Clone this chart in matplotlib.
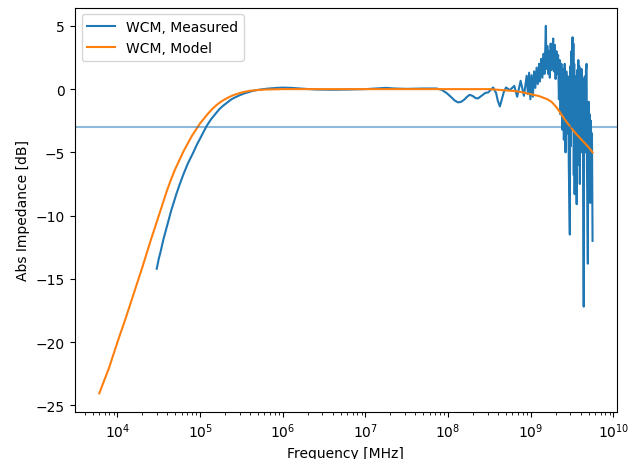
import matplotlib
matplotlib.use("Agg")
import matplotlib.pyplot as plt
import numpy as np

# values: (log10 frequency, dB)
model_pts = [
    (3.78, -24.05), (3.9, -22.0), (4.0, -20.0), (4.1, -18.1), (4.2, -16.1),
    (4.3, -14.1), (4.4, -12.0), (4.5, -10.0), (4.55, -9.0), (4.6, -8.0),
    (4.65, -7.1), (4.7, -6.3), (4.75, -5.6), (4.8, -4.9), (4.85, -4.3),
    (4.9, -3.7), (4.95, -3.2), (5.0, -2.7), (5.05, -2.3), (5.1, -1.9),
    (5.15, -1.55), (5.2, -1.25), (5.25, -1.0), (5.3, -0.8), (5.35, -0.63),
    (5.4, -0.48), (5.45, -0.37), (5.5, -0.27), (5.6, -0.13), (5.7, -0.07),
    (5.8, -0.03), (6.0, 0.0), (6.5, 0.0), (7.0, 0.0), (7.5, 0.0), (8.0, 0.0),
    (8.5, 0.0), (8.6, -0.05), (8.7, -0.1), (8.8, -0.15), (8.9, -0.25),
    (9.0, -0.4), (9.1, -0.55), (9.2, -0.8), (9.25, -1.0), (9.3, -1.35),
    (9.35, -1.8), (9.4, -2.3), (9.45, -2.75), (9.5, -3.15), (9.55, -3.55),
    (9.6, -3.9), (9.65, -4.25), (9.7, -4.6), (9.747, -5.0),
]

meas_pts = [
    (4.475, -14.2), (4.5, -13.4), (4.52, -12.9), (4.555, -11.9), (4.6, -10.8),
    (4.65, -9.6), (4.717, -8.2), (4.76, -7.4), (4.8, -6.7), (4.85, -5.9),
    (4.918, -5.0), (4.96, -4.4), (5.0, -3.9), (5.04, -3.4), (5.08, -2.9),
    (5.13, -2.4), (5.18, -2.0), (5.23, -1.6), (5.28, -1.3), (5.33, -1.05),
    (5.38, -0.8), (5.43, -0.63), (5.48, -0.48), (5.53, -0.35), (5.58, -0.25),
    (5.63, -0.15), (5.68, -0.08), (5.8, 0.03), (5.93, 0.1), (6.0, 0.12),
    (6.1, 0.1), (6.25, 0.03), (6.4, -0.03), (6.6, -0.05), (6.8, -0.03),
    (7.0, 0.0), (7.15, 0.06), (7.25, 0.1), (7.35, 0.05), (7.5, 0.02),
    (7.7, 0.05), (7.86, 0.05), (7.92, -0.05), (7.98, -0.3), (8.04, -0.65),
    (8.08, -0.9), (8.12, -1.05), (8.16, -1.0), (8.2, -0.8), (8.23, -0.6),
    (8.26, -0.45), (8.3, -0.55), (8.33, -0.7), (8.36, -0.74), (8.39, -0.6),
    (8.42, -0.45), (8.45, -0.3), (8.485, -0.26), (8.515, -0.05), (8.545, 0.13),
    (8.58, -0.3), (8.6, -0.9), (8.626, -1.37), (8.65, -0.8), (8.675, -0.2),
    (8.70, 0.13), (8.747, -0.08), (8.80, 0.26), (8.835, -0.6), (8.877, 0.66),
    (8.917, -0.53), (8.95, 1.06),
    (8.965, -0.4), (8.98, 1.3), (8.995, -0.8), (9.01, 1.1), (9.025, -0.6),
    (9.04, 1.4), (9.055, 0.1), (9.07, 1.7), (9.085, 0.4), (9.10, 2.0),
    (9.11, 0.6), (9.125, 2.4), (9.14, 0.9), (9.155, 2.8), (9.165, 1.2),
    (9.175, 3.2), (9.182, 5.0), (9.19, 1.6), (9.20, 3.4), (9.21, 1.2),
    (9.22, 3.0), (9.23, 0.9), (9.24, 3.6), (9.25, 1.5), (9.26, 2.8),
    (9.271, 4.0), (9.28, 1.4), (9.29, 3.5), (9.30, 0.8), (9.31, 3.0),
    (9.32, 1.2), (9.33, 2.7), (9.34, -0.8), (9.35, 2.3), (9.36, -2.0),
    (9.37, 2.0), (9.38, -3.2), (9.39, 1.6), (9.40, -4.0), (9.41, 2.0),
    (9.42, -5.0), (9.43, 1.4), (9.44, -3.5), (9.45, 1.0), (9.46, -6.2),
    (9.472, -11.5), (9.478, 1.8), (9.485, -4.5), (9.49, 3.0), (9.497, -3.0),
    (9.505, 4.1), (9.51, -2.5), (9.515, 3.6), (9.52, -6.8), (9.525, 2.0),
    (9.53, -8.3), (9.537, 1.0), (9.545, -4.0), (9.555, -9.1), (9.56, 1.5),
    (9.567, -5.0), (9.575, 2.3), (9.58, -6.0), (9.587, 1.8), (9.593, -7.5),
    (9.60, 0.5), (9.607, -5.0), (9.613, 1.6), (9.62, -4.0), (9.627, 0.8),
    (9.633, -6.5), (9.64, -17.2), (9.645, -2.0), (9.652, 1.0), (9.66, -5.0),
    (9.667, 1.5), (9.675, 2.0), (9.68, -6.5), (9.69, -13.8), (9.695, -3.0),
    (9.70, -1.0), (9.707, -6.0), (9.713, -2.0), (9.72, -9.0), (9.727, -2.5),
    (9.733, -6.0), (9.74, -3.5), (9.747, -12.0),
]

cutoff_db = -3

model_f, model_db = np.array(model_pts).T
meas_f, meas_db = np.array(meas_pts).T

fig, ax = plt.subplots(figsize=(6.35, 4.6), dpi=100)
fig.subplots_adjust(left=0.1175, right=0.972, top=0.9815, bottom=0.1028)

ax.plot(10 ** meas_f, meas_db, label="WCM, Measured")
ax.plot(10 ** model_f, model_db, label="WCM, Model")
ax.axhline(cutoff_db, alpha=0.5)

ax.set_xscale("log")
ax.set_xlabel("Frequency [MHz]")
ax.set_ylabel("Abs Impedance [dB]")
ax.legend(loc="upper left")

fig.savefig("out.png")
